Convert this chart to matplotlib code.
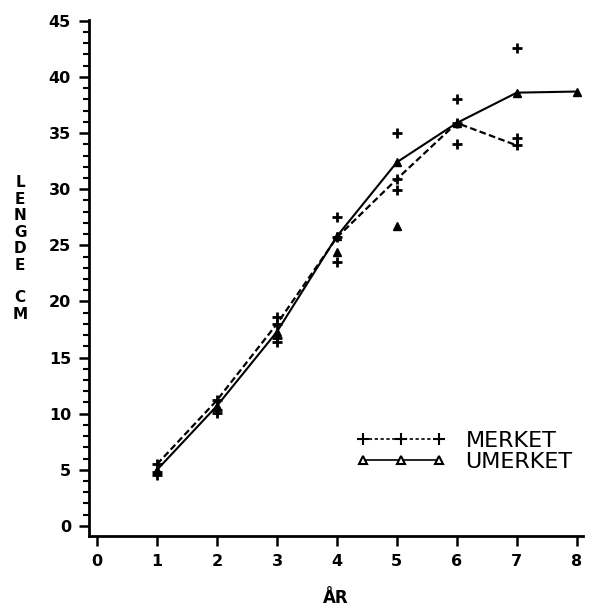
import matplotlib.pyplot as plt
from matplotlib.lines import Line2D
from matplotlib.ticker import MultipleLocator

# mean length per age
merket_age = [1, 2, 3, 4, 5, 6, 7]
merket_mean = [5.5, 11.2, 18.0, 25.7, 30.9, 35.9, 33.9]
umerket_age = [1, 2, 3, 4, 5, 6, 7, 8]
umerket_mean = [5.0, 10.7, 17.3, 25.8, 32.4, 35.9, 38.6, 38.7]

# single observations
merket_obs_age = [1, 1, 2, 2, 3, 3, 3, 4, 4, 5, 5, 6, 6, 7, 7]
merket_obs_len = [4.8, 4.5, 10.3, 10.1, 18.6, 16.7, 16.4, 27.5, 23.5, 35.0, 29.9, 38.0, 34.0, 42.6, 34.6]
umerket_obs_age = [4, 5]
umerket_obs_len = [24.4, 26.7]

plt.rcParams['font.family'] = ['DejaVu Sans']

fig = plt.figure(figsize=(5.94, 6.14), dpi=100)
ax = fig.add_axes([0.150, 0.127, 0.831, 0.840])

ax.plot(merket_age, merket_mean, color="black", linestyle=(0, (3, 1.5)), linewidth=1.6,
        marker="+", markersize=7, markeredgewidth=2)
ax.plot(umerket_age, umerket_mean, color="black", linestyle="-", linewidth=1.5,
        marker="^", markersize=5.5)
ax.plot(merket_obs_age, merket_obs_len, linestyle="none", color="black",
        marker="+", markersize=7, markeredgewidth=2)
ax.plot(umerket_obs_age, umerket_obs_len, linestyle="none", color="black",
        marker="^", markersize=5.5)

ax.set_xlim(-0.133, 8.1)
ax.set_ylim(-0.9, 45.05)
ax.set_xticks(range(0, 9))
ax.set_yticks(range(0, 46, 5))
ax.yaxis.set_minor_locator(MultipleLocator(1))

for s in ["top", "right"]:
    ax.spines[s].set_visible(False)
ax.spines["left"].set_linewidth(2)
ax.spines["bottom"].set_linewidth(2)
ax.tick_params(axis="both", which="major", direction="out", length=7, width=1.8,
               labelsize=11.5, pad=6)
ax.tick_params(axis="y", which="minor", direction="out", length=4, width=1.5)
for lab in ax.get_xticklabels() + ax.get_yticklabels():
    lab.set_fontweight("bold")

ax.set_xlabel("ÅR", fontsize=12, fontweight="bold", labelpad=14)
fig.text(0.034, 0.595, "L\nE\nN\nG\nD\nE\n\nC\nM", fontsize=11, fontweight="bold",
         ha="center", va="center", linespacing=1.12)

handles = [
    Line2D([], [], color="black", linestyle=(0, (2, 1.5)), linewidth=1.2,
           marker="+", markersize=8, markeredgewidth=1.5),
    Line2D([], [], color="black", linestyle="-", linewidth=1.2,
           marker="^", markersize=6, markerfacecolor="white", markeredgewidth=1.5),
]
ax.legend(handles, ["MERKET", "UMERKET"], numpoints=3, frameon=False,
          loc="lower right", bbox_to_anchor=(1.02, 0.085), handlelength=4.0,
          handletextpad=0.9, labelspacing=0.05, prop={"size": 16})

fig.savefig("out.png", dpi=100)
